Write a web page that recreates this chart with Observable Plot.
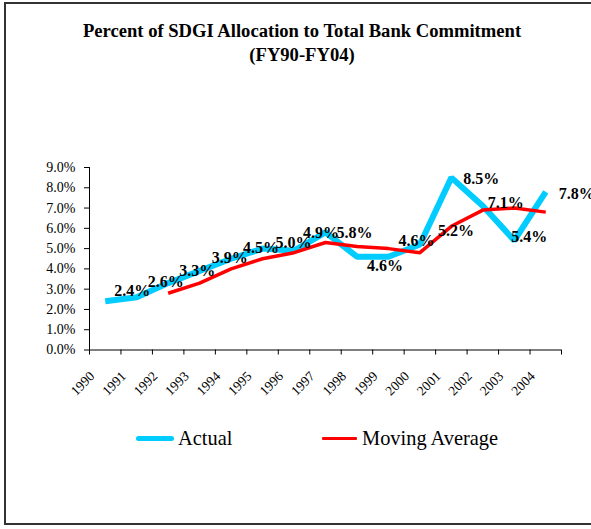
<!DOCTYPE html>
<html>
<head>
<meta charset="utf-8">
<script src="https://cdn.jsdelivr.net/npm/d3@7"></script>
<script src="https://cdn.jsdelivr.net/npm/@observablehq/plot@0.6"></script>
<style>
  html, body { margin: 0; padding: 0; background: #fff; }
  #wrap { position: relative; width: 591px; height: 529px; overflow: hidden; font-family: "Liberation Serif", "Times New Roman", serif; }
  #frame { position: absolute; left: 4px; top: 2px; width: 620px; height: 523px; border: 2px solid #333; box-sizing: border-box; }
  .title { position: absolute; left: 0; width: 604px; text-align: center; font-weight: bold; font-size: 18.6px; color: #000; }
  #chart { position: absolute; left: 0; top: 150px; }
  .leg { position: absolute; top: 426px; font-size: 20.4px; color: #000; line-height: 24px; font-family: "Liberation Serif", "Times New Roman", serif; }
  .sw { position: absolute; border-radius: 3px; }
</style>
</head>
<body>
<div id="wrap">
  <div id="frame"></div>
  <div class="title" style="top:20px">Percent of SDGI Allocation to Total Bank Commitment</div>
  <div class="title" style="top:44px">(FY90-FY04)</div>
  <div id="chart"></div>
  <div class="sw" style="left:136px; top:435.5px; width:38px; height:5px; background:#00CCFF"></div>
  <div class="leg" style="left:178px">Actual</div>
  <div class="sw" style="left:322px; top:436.5px; width:35px; height:3px; background:#FF0000; border-radius:1px"></div>
  <div class="leg" style="left:362px">Moving Average</div>
</div>
<script>
// ---- data ----
const years = [1990, 1991, 1992, 1993, 1994, 1995, 1996, 1997, 1998, 1999, 2000, 2001, 2002, 2003, 2004];
const actual = [2.4, 2.6, 3.3, 3.9, 4.5, 5.0, 4.9, 5.8, 4.6, 4.6, 5.2, 8.5, 7.1, 5.4, 7.8];
const movingAverage = [null, null, 2.8, 3.3, 4.0, 4.5, 4.8, 5.3, 5.1, 5.0, 4.8, 6.1, 6.9, 7.0, 6.8];
const yTicks = [0, 1, 2, 3, 4, 5, 6, 7, 8, 9];
const seriesNames = ["Actual", "Moving Average"];

// ---- build table ----
const rowsActual = years.map((y, i) => ({year: y, value: actual[i]}));
const rowsMA = years.map((y, i) => ({year: y, value: movingAverage[i]})).filter(d => d.value != null);

// label nudges (layout only): [dx, dy] from each point, text starts at the right
const nudge = [[9,-10],[11,-15],[11,-12],[12,-13],[12,-11],[13,-6],[9,-18],[11,0],[10,9],[10,-16],[18,-14],[12,1],[5,-3],[-3,-4],[13,2]];

const xc = d => d.year + 0.5;
const serif = '"Liberation Serif", "Times New Roman", serif';

const chart = Plot.plot({
  width: 591,
  height: 250,
  marginTop: 17,
  marginBottom: 50.5,
  marginLeft: 89,
  marginRight: 30,
  style: {fontFamily: serif, background: "transparent", overflow: "visible"},
  x: {domain: [1990, 2005], axis: null},
  y: {domain: [0, 9], axis: null},
  marks: [
    Plot.axisY({ticks: yTicks, label: null, tickSize: 5, tickPadding: 9, tickFormat: d => d.toFixed(1) + "%", fontSize: 14, fontFamily: serif, color: "#000", strokeWidth: 1}),
    Plot.axisX({ticks: d3.range(1990, 2006), label: null, tickSize: 5, tickFormat: () => "", strokeWidth: 1}),
    Plot.axisX({ticks: years.map(y => y + 0.5), label: null, tickSize: 0, tickRotate: -45, tickPadding: 0, tickFormat: d => String(d - 0.5), fontSize: 13.5, fontFamily: serif, dx: -13, dy: 24, color: "#000"}),
    Plot.ruleX([1990], {y1: 0, y2: 9, stroke: "#000", strokeWidth: 1}),
    Plot.ruleY([0], {x1: 1990, x2: 2005, stroke: "#000", strokeWidth: 1}),
    Plot.line(rowsActual, {x: xc, y: "value", stroke: "#00CCFF", strokeWidth: 6, strokeLinejoin: "miter", strokeLinecap: "butt"}),
    Plot.line(rowsMA, {x: xc, y: "value", stroke: "#FF0000", strokeWidth: 3.5, strokeLinecap: "butt"}),
    ...rowsActual.map((d, i) => Plot.text([d], {
      x: xc, y: "value", text: r => r.value.toFixed(1) + "%",
      textAnchor: "start", lineAnchor: "middle", dx: nudge[i][0], dy: nudge[i][1],
      fontSize: 16, fontWeight: "bold", fontFamily: serif, fill: "#000"
    }))
  ]
});
document.getElementById("chart").appendChild(chart);
</script>
</body>
</html>
